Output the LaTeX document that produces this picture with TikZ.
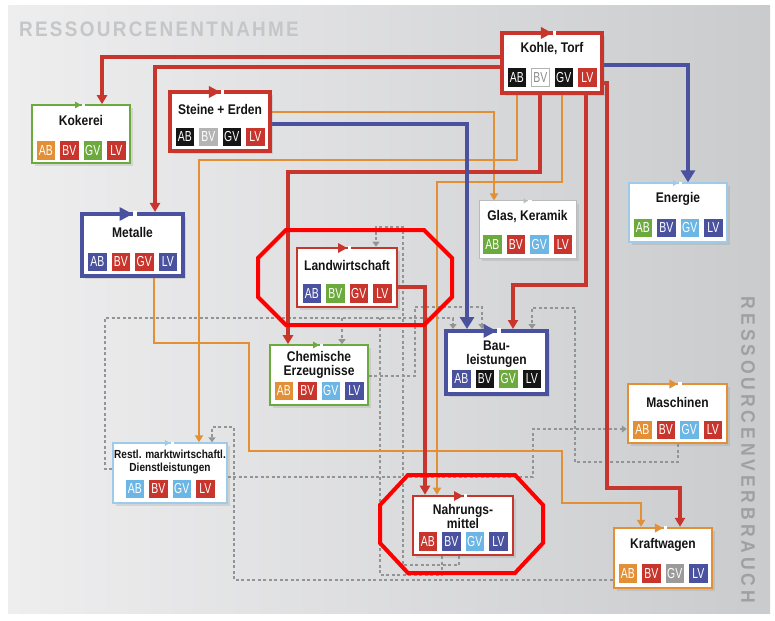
\documentclass[tikz,border=0pt]{standalone}
\usepackage{fontspec}
\setmainfont{Liberation Sans}
\newfontfamily\titlefont{Liberation Sans}[FakeStretch=0.86]
\newfontfamily\badgefont{Liberation Sans}[FakeStretch=0.72]
\newfontfamily\headfontA{Liberation Sans}[FakeStretch=0.9,LetterSpace=11]
\newfontfamily\headfontB{Liberation Sans}[FakeStretch=0.9,LetterSpace=20]
\usetikzlibrary{arrows.meta,calc,shadows}
\pgfdeclarelayer{bg}
\pgfdeclarelayer{lines}
\pgfsetlayers{bg,lines,main}

\definecolor{cred}{HTML}{C8352C}
\definecolor{cblue}{HTML}{4A52A0}
\definecolor{cgreen}{HTML}{6DAA3E}
\definecolor{corange}{HTML}{E38F36}
\definecolor{clblue}{HTML}{6BB6E4}
\definecolor{cblack}{HTML}{151515}
\definecolor{clgray}{HTML}{B4B4B4}
\definecolor{cgray}{HTML}{9B9B9B}
\definecolor{cbord}{HTML}{B9BBBD}
\definecolor{cfaintblue}{HTML}{9FCBEA}
\definecolor{cdash}{HTML}{939496}
\definecolor{coct}{HTML}{FF0000}
\definecolor{cbgL}{HTML}{EEEEEF}
\definecolor{cbgR}{HTML}{CACBCD}
\definecolor{cheadA}{HTML}{C5C6C8}
\definecolor{cheadB}{HTML}{9FA0A2}

\tikzset{
 mybox/.style={fill=white, inner sep=0pt, drop shadow={opacity=0.2, shadow xshift=3pt, shadow yshift=-3pt}},
 boxtitle/.style={inner sep=0pt, align=center, text=black!92, font=\titlefont\bfseries\fontsize{14}{14}\selectfont},
 restl title/.style={font=\titlefont\bfseries\fontsize{11.7}{13.5}\selectfont},
 mybadge/.style={minimum size=18.5pt, inner sep=0pt, text=white, font=\badgefont\fontsize{14.5}{14.5}\selectfont},
 b-rd/.style={fill=cred}, b-bl/.style={fill=cblue}, b-gr/.style={fill=cgreen},
 b-or/.style={fill=corange}, b-lb/.style={fill=clblue}, b-bk/.style={fill=cblack},
 b-lg/.style={fill=clgray}, b-gy/.style={fill=cgray},
 b-wh/.style={fill=white, draw=black!30, line width=0.6pt, text=black!45},
 redline/.style={draw=cred, line width=3.2pt, -{Triangle[length=9pt,width=10pt]}},
 blueline/.style={draw=cblue, line width=4.4pt, -{Triangle[length=12pt,width=14pt]}},
 orline/.style={draw=corange, line width=2.3pt, -{Triangle[length=7pt,width=8pt]}},
 dashline/.style={draw=cdash, line width=1.2pt, dash pattern=on 3pt off 2.5pt, -{Triangle[length=5pt,width=7pt]}},
 dashplain/.style={draw=cdash, line width=1.2pt, dash pattern=on 3pt off 2.5pt},
 octo/.style={draw=coct, line width=4pt, line join=miter},
}

% name, cx, cy, w, h, colour, line width, title, title y
\newcommand\mkbox[9]{%
  \node[mybox, draw=#6, line width=#7pt, minimum width=#4, minimum height=#5] (#1) at (#2,#3) {};
  \node[boxtitle, #1 title/.try] (#1-t) at (#2,#9) {#8};
  \fill[white] ($(#1.north)+(0.6,-0.6)$) rectangle ($(#1.north)+(4,{#7+0.6})$);
  \fill[#6] ($(#1.north)+({-3*#7-1},{#7/2-1.5*#7-1})$) -- ($(#1.north)+(0,{#7/2})$) -- ($(#1.north)+({-3*#7-1},{#7/2+1.5*#7+1})$) -- cycle;
}
% name, cx, y, four badge styles
\newcommand\badges[7]{%
  \node[mybadge,#4] (#1-ab) at (#2-35.25,#3) {AB};
  \node[mybadge,#5] (#1-bv) at (#2-11.75,#3) {BV};
  \node[mybadge,#6] (#1-gv) at (#2+11.75,#3) {GV};
  \node[mybadge,#7] (#1-lv) at (#2+35.25,#3) {LV};
}

\begin{document}
\begin{tikzpicture}[x=1pt,y=-1pt]
\useasboundingbox (0,0) rectangle (775,620);

\begin{pgfonlayer}{bg}
  \fill[white] (0,0) rectangle (775,620);
  \shade[left color=cbgL, right color=cbgR] (8,6) rectangle (770,613);
  \node[text=cheadA, font=\headfontA\bfseries\fontsize{21}{21}\selectfont, inner sep=0pt] (head1) at (159,29) {RESSOURCENENTNAHME};
  \node[rotate=-90, text=cheadB, font=\headfontB\bfseries\fontsize{19.5}{19.5}\selectfont, inner sep=0pt] (head2) at (748,450) {RESSOURCENVERBRAUCH};
\end{pgfonlayer}

% boxes
\mkbox{kohle}{552}{63}{100}{60}{cred}{3.4}{Kohle, Torf}{49}
\badges{kohle}{552}{77.5}{b-bk}{b-wh}{b-bk}{b-rd}
\mkbox{steine}{220}{121.5}{100}{59}{cred}{3.4}{Steine + Erden}{109}
\badges{steine}{220}{137}{b-bk}{b-lg}{b-bk}{b-rd}
\mkbox{kokerei}{81}{134}{98}{58}{cgreen}{1.6}{Kokerei}{120}
\badges{kokerei}{81}{150.5}{b-or}{b-rd}{b-gr}{b-rd}
\mkbox{metalle}{132.5}{245}{101}{62}{cblue}{4}{Metalle}{232}
\badges{metalle}{132.5}{262}{b-bl}{b-rd}{b-rd}{b-bl}
\mkbox{landw}{347}{277.5}{100}{59}{cred}{2.6}{Landwirtschaft}{265}
\badges{landw}{347}{293.5}{b-bl}{b-gr}{b-rd}{b-rd}
\mkbox{glas}{527.5}{229.5}{97}{57}{cbord}{1}{Glas, Keramik}{217}
\badges{glas}{527.5}{244.5}{b-gr}{b-rd}{b-lb}{b-rd}
\mkbox{energie}{678}{212.5}{98}{59}{cfaintblue}{1.3}{Energie}{199}
\badges{energie}{678}{228}{b-gr}{b-bl}{b-lb}{b-bl}
\mkbox{chem}{319}{375}{98}{60}{cgreen}{1.6}{Chemische\\Erzeugnisse}{365}
\badges{chem}{319}{391}{b-or}{b-rd}{b-lb}{b-bl}
\mkbox{bau}{496.5}{362.5}{101}{63}{cblue}{4}{Bau-\\leistungen}{354}
\badges{bau}{496.5}{379}{b-bl}{b-bk}{b-gr}{b-bk}
\mkbox{masch}{677.5}{413.5}{99}{59}{corange}{2.4}{Maschinen}{402}
\badges{masch}{677.5}{430}{b-or}{b-rd}{b-lb}{b-rd}
\mkbox{restl}{170}{473}{114}{60}{cfaintblue}{1.4}{Restl. marktwirtschaftl.\\Dienstleistungen}{462}
\badges{restl}{170}{489}{b-lb}{b-rd}{b-lb}{b-rd}
\mkbox{nahr}{463}{525.5}{100}{59}{cred}{2.6}{Nahrungs-\\mittel}{516.5}
\badges{nahr}{463}{541.5}{b-rd}{b-bl}{b-lb}{b-bl}
\mkbox{kraft}{663}{558}{98}{60}{corange}{2.4}{Kraftwagen}{545}
\badges{kraft}{663}{573.5}{b-or}{b-rd}{b-gy}{b-bl}

\begin{pgfonlayer}{lines}
  % dashed grey links
  \draw[dashline] (restl.west |- 0,469) -| (105,318) -| (bau.north -| 453,0);
  \draw[dashline] (342,318) -- (chem.north -| 342,0);
  \draw[dashline] (chem.east |- 0,376) -| (415,307) -| (bau.north -| 482,0);
  \draw[dashplain] (nahr.south -| 442,0) |- (380,575) -- (380,318);
  \draw[dashline] (nahr.south -| 459,0) |- (403,565) |- (376,227) -- (landw.north -| 376,0);
  \draw[dashline] (masch.south -| 678,0) |- (575,462) |- (532,308) -- (bau.north -| 532,0);
  \draw[dashline] (restl.east |- 0,477) -| (533,429) -- (masch.west |- 0,429);
  \draw[dashline] (kraft.west |- 0,580) -| (234,427) -| (restl.north -| 212,0);
  % orange
  \draw[orline] (steine.east |- 0,112) -| (glas.north -| 494,0);
  \draw[orline] (kohle.south -| 517,0) |- (199,160) -- (restl.north -| 199,0);
  \draw[orline] (kohle.south -| 562,0) |- (437,182) -- (nahr.north -| 437,0);
  \draw[orline] (metalle.south -| 154,0) |- (249,343) |- (562,451) |- (641,503) -- (kraft.north -| 641,0);
  % red
  \draw[redline] (kohle.west |- 0,57) -| (kokerei.north -| 102,0);
  \draw[redline] (kohle.west |- 0,67) -| (metalle.north -| 155,0);
  \draw[redline] (kohle.south -| 540,0) |- (288,172) -- (chem.north -| 288,0);
  \draw[redline] (kohle.south -| 586,0) |- (513,285) -- (bau.north -| 513,0);
  \draw[redline] (kohle.east |- 0,83) -| (607,488) -| (kraft.north -| 680,0);
  \draw[redline] (landw.east |- 0,287) -| (nahr.north -| 425,0);
  % blue
  \draw[blueline] (steine.east |- 0,124) -| (bau.north -| 467,0);
  \draw[blueline] (kohle.east |- 0,65) -| (energie.north -| 688,0);
\end{pgfonlayer}

% highlight octagons
\draw[octo] (286,230) -- (424,230) -- (452,258) -- (452,297) -- (424,325) -- (286,325) -- (258,297) -- (258,258) -- cycle;
\draw[octo] (408,475) -- (515,475) -- (543,505) -- (543,543) -- (515,573) -- (408,573) -- (380,543) -- (380,505) -- cycle;

\end{tikzpicture}
\end{document}
